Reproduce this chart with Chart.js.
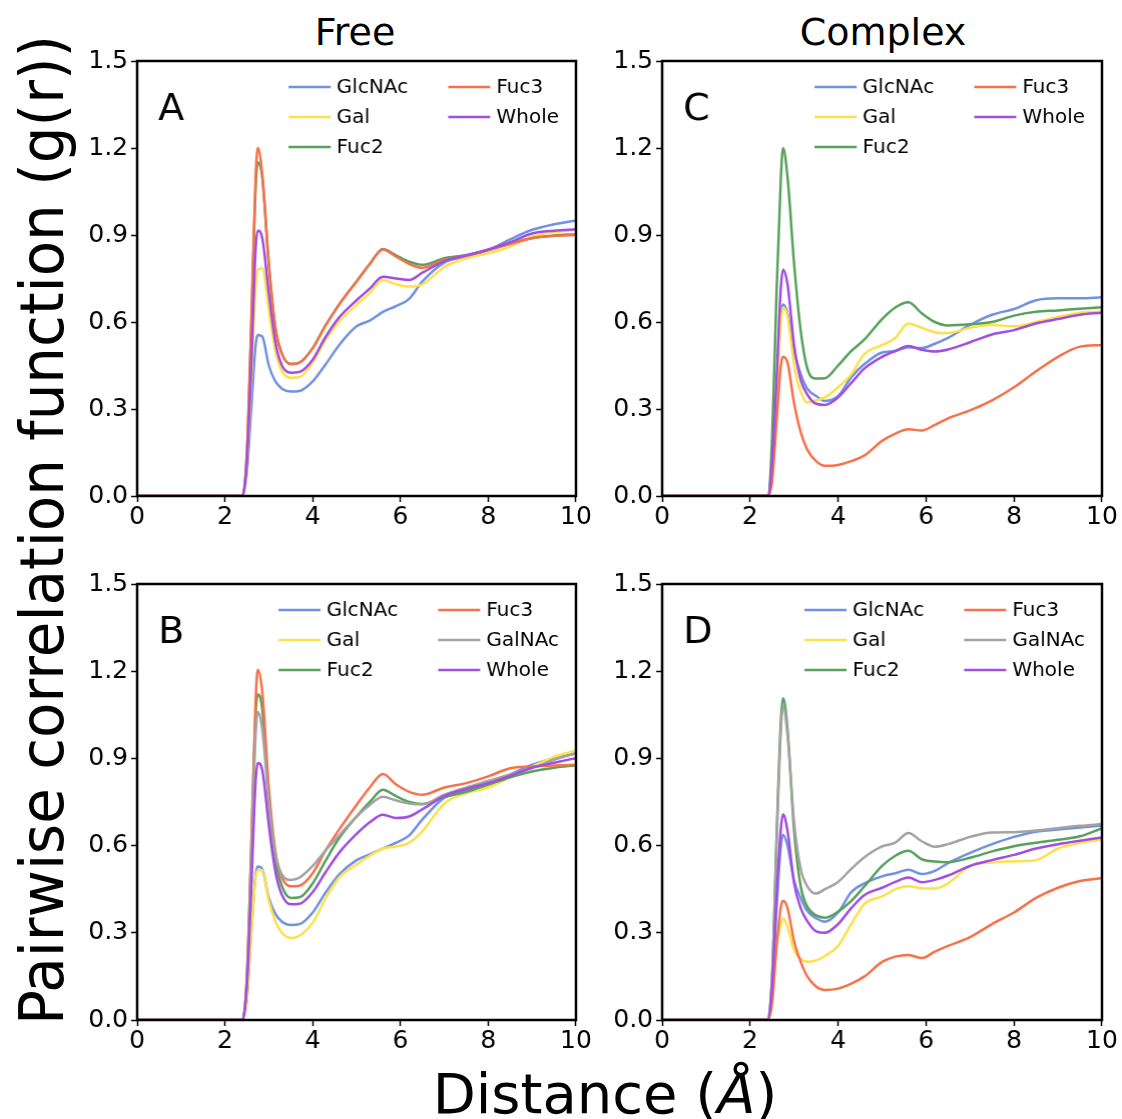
<!DOCTYPE html>
<html>
<head>
<meta charset="utf-8">
<script src="https://cdn.jsdelivr.net/npm/chart.js@4.4.1/dist/chart.umd.min.js"></script>
<style>
  body { margin: 0; background: #fff; width: 1122px; height: 1119px; overflow: hidden; position: relative; font-family: "DejaVu Sans", sans-serif; }
  canvas { position: absolute; left: 0; top: 0; }
  .title { position: absolute; font-size: 38px; line-height: 1; transform: translateX(-50%); white-space: nowrap; }
  #ylab { position: absolute; font-size: 60px; line-height: 1; white-space: nowrap; transform-origin: center center; }
  #xlab { position: absolute; font-size: 56px; line-height: 1; white-space: nowrap; transform: translateX(-50%); }
</style>
</head>
<body>
<div class="title" style="left:355px;top:13px">Free</div>
<div class="title" style="left:883px;top:13px">Complex</div>
<div id="ylab">Pairwise correlation function (g(r))</div>
<div id="xlab" style="left:605px;top:1066px">Distance (<i>Å</i>)</div>

<canvas id="cA" width="540" height="520"></canvas>
<canvas id="cC" width="540" height="520"></canvas>
<canvas id="cB" width="540" height="520"></canvas>
<canvas id="cD" width="540" height="520"></canvas>

<script>
// distance grid (Å) shared by every curve
const xGrid = [0, 2.4, 2.5, 2.6, 2.7, 2.75, 2.85, 3.0, 3.15, 3.3, 3.5, 3.7, 4.0, 4.3, 4.6, 5.0, 5.3, 5.6, 5.9, 6.2, 6.5, 7.0, 7.5, 8.0, 8.5, 9.0, 9.5, 10];
const xTicks = [0, 2, 4, 6, 8, 10];
const yTicks = [0.0, 0.3, 0.6, 0.9, 1.2, 1.5];

const names5 = ['GlcNAc', 'Gal', 'Fuc2', 'Fuc3', 'Whole'];
const names6 = ['GlcNAc', 'Gal', 'Fuc2', 'Fuc3', 'GalNAc', 'Whole'];

// panel A (free)
const aGlcNAc = [0,0,0.08,0.30,0.52,0.555,0.55,0.45,0.395,0.37,0.36,0.362,0.395,0.455,0.52,0.585,0.605,0.635,0.655,0.68,0.74,0.805,0.825,0.848,0.885,0.918,0.937,0.95];
const aGal    = [0,0,0.10,0.40,0.72,0.78,0.785,0.64,0.50,0.43,0.408,0.41,0.46,0.54,0.60,0.66,0.70,0.745,0.73,0.722,0.73,0.79,0.82,0.837,0.86,0.894,0.91,0.917];
const aFuc2   = [0,0,0.14,0.58,1.06,1.15,1.10,0.80,0.58,0.49,0.455,0.46,0.51,0.59,0.66,0.74,0.80,0.852,0.83,0.808,0.797,0.82,0.83,0.848,0.87,0.89,0.898,0.903];
const aFuc3   = [0,0,0.15,0.60,1.10,1.20,1.11,0.80,0.58,0.49,0.455,0.46,0.51,0.59,0.66,0.74,0.80,0.85,0.825,0.80,0.787,0.815,0.828,0.848,0.87,0.889,0.897,0.90];
const aWhole  = [0,0,0.12,0.45,0.85,0.915,0.89,0.70,0.53,0.45,0.425,0.428,0.47,0.55,0.615,0.675,0.715,0.756,0.75,0.745,0.77,0.81,0.83,0.85,0.875,0.905,0.915,0.92];

// panel C (complex)
const cGlcNAc = [0,0,0.10,0.35,0.62,0.66,0.63,0.50,0.42,0.37,0.345,0.328,0.345,0.41,0.455,0.495,0.50,0.513,0.51,0.525,0.545,0.59,0.625,0.645,0.675,0.682,0.682,0.685];
const cGal    = [0,0,0.10,0.35,0.60,0.65,0.62,0.45,0.36,0.322,0.33,0.34,0.375,0.42,0.49,0.52,0.545,0.595,0.58,0.565,0.562,0.58,0.59,0.585,0.60,0.617,0.632,0.636];
const cFuc2   = [0,0,0.20,0.70,1.10,1.20,1.10,0.80,0.57,0.44,0.405,0.406,0.45,0.50,0.54,0.61,0.65,0.668,0.63,0.60,0.588,0.592,0.60,0.622,0.635,0.64,0.646,0.651];
const cFuc3   = [0,0,0.05,0.25,0.45,0.48,0.46,0.32,0.22,0.16,0.12,0.104,0.107,0.12,0.14,0.19,0.215,0.23,0.226,0.245,0.268,0.295,0.33,0.375,0.43,0.48,0.515,0.521];
const cWhole  = [0,0,0.12,0.40,0.72,0.78,0.73,0.52,0.40,0.35,0.318,0.314,0.34,0.39,0.44,0.48,0.50,0.517,0.504,0.498,0.505,0.53,0.557,0.572,0.595,0.61,0.625,0.632];

// panel B (free)
const bGlcNAc = [0,0,0.07,0.30,0.50,0.528,0.52,0.42,0.365,0.338,0.327,0.33,0.37,0.44,0.50,0.55,0.57,0.59,0.61,0.635,0.69,0.765,0.79,0.81,0.845,0.878,0.90,0.918];
const bGal    = [0,0,0.07,0.30,0.49,0.515,0.516,0.41,0.34,0.30,0.282,0.29,0.335,0.42,0.49,0.535,0.565,0.59,0.597,0.61,0.65,0.745,0.78,0.80,0.835,0.872,0.905,0.927];
const bFuc2   = [0,0,0.14,0.58,1.05,1.12,1.07,0.75,0.55,0.46,0.42,0.422,0.47,0.55,0.625,0.70,0.75,0.792,0.77,0.75,0.743,0.767,0.785,0.81,0.835,0.855,0.868,0.876];
const bFuc3   = [0,0,0.15,0.60,1.10,1.205,1.13,0.80,0.58,0.49,0.46,0.462,0.505,0.585,0.655,0.74,0.80,0.846,0.81,0.785,0.775,0.80,0.815,0.838,0.866,0.872,0.876,0.878];
const bGalNAc = [0,0,0.13,0.55,0.98,1.06,1.00,0.75,0.57,0.50,0.482,0.49,0.53,0.585,0.635,0.70,0.74,0.768,0.755,0.745,0.742,0.775,0.80,0.822,0.845,0.867,0.895,0.918];
const bWhole  = [0,0,0.12,0.45,0.82,0.884,0.86,0.67,0.51,0.43,0.398,0.40,0.44,0.51,0.575,0.64,0.68,0.706,0.695,0.70,0.725,0.77,0.795,0.815,0.84,0.868,0.885,0.901];

// panel D (complex)
const dGlcNAc = [0,0,0.10,0.38,0.60,0.637,0.60,0.48,0.42,0.375,0.35,0.338,0.37,0.44,0.47,0.494,0.505,0.517,0.502,0.513,0.54,0.575,0.605,0.63,0.648,0.655,0.662,0.669];
const dGal    = [0,0,0.06,0.25,0.33,0.35,0.32,0.24,0.21,0.20,0.205,0.22,0.255,0.33,0.40,0.425,0.45,0.46,0.453,0.452,0.47,0.53,0.542,0.546,0.55,0.59,0.61,0.62];
const dFuc2   = [0,0,0.15,0.62,1.03,1.107,1.00,0.65,0.46,0.39,0.36,0.352,0.373,0.41,0.46,0.53,0.565,0.582,0.553,0.545,0.543,0.558,0.58,0.598,0.61,0.62,0.632,0.66];
const dFuc3   = [0,0,0.06,0.25,0.39,0.41,0.385,0.27,0.20,0.15,0.115,0.103,0.108,0.125,0.15,0.20,0.218,0.224,0.213,0.235,0.255,0.285,0.33,0.37,0.42,0.455,0.478,0.488];
const dGalNAc = [0,0,0.15,0.60,1.00,1.08,0.98,0.68,0.52,0.46,0.435,0.45,0.475,0.52,0.56,0.597,0.61,0.643,0.615,0.596,0.605,0.63,0.645,0.646,0.652,0.66,0.668,0.674];
const dWhole  = [0,0,0.12,0.42,0.66,0.708,0.65,0.47,0.385,0.34,0.305,0.30,0.33,0.385,0.43,0.455,0.475,0.49,0.474,0.482,0.497,0.53,0.55,0.568,0.59,0.605,0.617,0.628];

const colors = {
  GlcNAc: '#7191e3',
  Gal: '#fde04c',
  Fuc2: '#58a15a',
  Fuc3: '#f5724a',
  GalNAc: '#a3a3a3',
  Whole: '#a24ee0'
};

const FONT = '"DejaVu Sans", sans-serif';

// frame, panel letter and in-plot legend
const panelDecor = {
  id: 'panelDecor',
  afterDatasetsDraw(chart, args, opts) {
    const { ctx, chartArea: a } = chart;
    ctx.save();
    ctx.strokeStyle = '#000';
    ctx.lineWidth = 2.5;
    ctx.strokeRect(a.left, a.top, a.right - a.left, a.bottom - a.top);

    ctx.fillStyle = '#000';
    ctx.font = '38px ' + FONT;
    ctx.textBaseline = 'alphabetic';
    ctx.fillText(opts.letter, a.left + 21, a.top + 59);

    const ds = chart.data.datasets;
    const rows = 3;
    const cols = [];
    ds.forEach((d, i) => {
      const c = Math.floor(i / rows);
      (cols[c] = cols[c] || []).push(d);
    });
    ctx.font = '20px ' + FONT;
    const handle = 42, gap = 6, colGap = 40;
    const widths = cols.map(col => handle + gap + Math.max(...col.map(d => ctx.measureText(d.label).width)));
    const total = widths.reduce((s, w) => s + w, 0) + colGap * (cols.length - 1);
    let x = a.right - 17 - total;
    ctx.textBaseline = 'middle';
    cols.forEach((col, ci) => {
      col.forEach((d, ri) => {
        const y = a.top + 26 + ri * 30;
        ctx.strokeStyle = d.borderColor;
        ctx.lineWidth = 2.5;
        ctx.beginPath();
        ctx.moveTo(x, y);
        ctx.lineTo(x + handle, y);
        ctx.stroke();
        ctx.fillStyle = '#000';
        ctx.fillText(d.label, x + handle + gap, y + 1);
      });
      x += widths[ci] + colGap;
    });
    ctx.restore();
  }
};

// box = target plot area in page pixels
function makePanel(id, letter, names, series, box) {
  const canvas = document.getElementById(id);
  const datasets = names.map((n, i) => ({
    label: n,
    data: xGrid.map((x, k) => ({ x: x, y: series[i][k] })),
    borderColor: colors[n],
    borderWidth: 2.5,
    pointRadius: 0,
    cubicInterpolationMode: 'monotone',
    order: -i
  }));

  const chart = new Chart(canvas, {
    type: 'line',
    data: { datasets },
    plugins: [panelDecor],
    options: {
      responsive: false,
      maintainAspectRatio: false,
      animation: false,
      layout: { padding: { top: 4, right: 4, left: 0, bottom: 0 } },
      plugins: {
        legend: { display: false },
        tooltip: { enabled: false },
        panelDecor: { letter: letter }
      },
      scales: {
        x: {
          type: 'linear',
          min: 0,
          max: 10,
          afterBuildTicks: s => { s.ticks = xTicks.map(v => ({ value: v })); },
          ticks: { color: '#000', font: { family: FONT, size: 25 }, padding: 0, maxRotation: 0, callback: v => String(v) },
          grid: { drawOnChartArea: false, drawTicks: true, tickLength: 6, tickWidth: 1.5, tickColor: '#000' },
          border: { display: false }
        },
        y: {
          min: 0,
          max: 1.5,
          afterBuildTicks: s => { s.ticks = yTicks.map(v => ({ value: v })); },
          afterFit: s => { s.width = 77; },
          ticks: { color: '#000', font: { family: FONT, size: 25 }, padding: 3, callback: v => v.toFixed(1) },
          grid: { drawOnChartArea: false, drawTicks: true, tickLength: 6, tickWidth: 1.5, tickColor: '#000' },
          border: { display: false }
        }
      }
    }
  });

  // size the canvas so the plot area matches the box, then place it
  let a = chart.chartArea;
  const w = chart.width + (box.r - box.l) - (a.right - a.left);
  const h = chart.height + (box.b - box.t) - (a.bottom - a.top);
  chart.resize(w, h);
  a = chart.chartArea;
  canvas.style.left = (box.l - a.left) + 'px';
  canvas.style.top = (box.t - a.top) + 'px';
  return chart;
}

makePanel('cA', 'A', names5, [aGlcNAc, aGal, aFuc2, aFuc3, aWhole], { l: 137, t: 61, r: 575, b: 496 });
makePanel('cC', 'C', names5, [cGlcNAc, cGal, cFuc2, cFuc3, cWhole], { l: 662, t: 61, r: 1101, b: 496 });
makePanel('cB', 'B', names6, [bGlcNAc, bGal, bFuc2, bFuc3, bGalNAc, bWhole], { l: 137, t: 584, r: 575, b: 1020 });
makePanel('cD', 'D', names6, [dGlcNAc, dGal, dFuc2, dFuc3, dGalNAc, dWhole], { l: 662, t: 584, r: 1101, b: 1020 });

// y label: condensed to span the full figure height like the reference
(function () {
  const el = document.getElementById('ylab');
  const w = el.offsetWidth, h = el.offsetHeight;
  const s = 990 / w;
  el.style.left = (42 - w / 2) + 'px';
  el.style.top = (530 - h / 2) + 'px';
  el.style.transform = 'rotate(-90deg) scaleX(' + s.toFixed(3) + ')';
})();
</script>
</body>
</html>
